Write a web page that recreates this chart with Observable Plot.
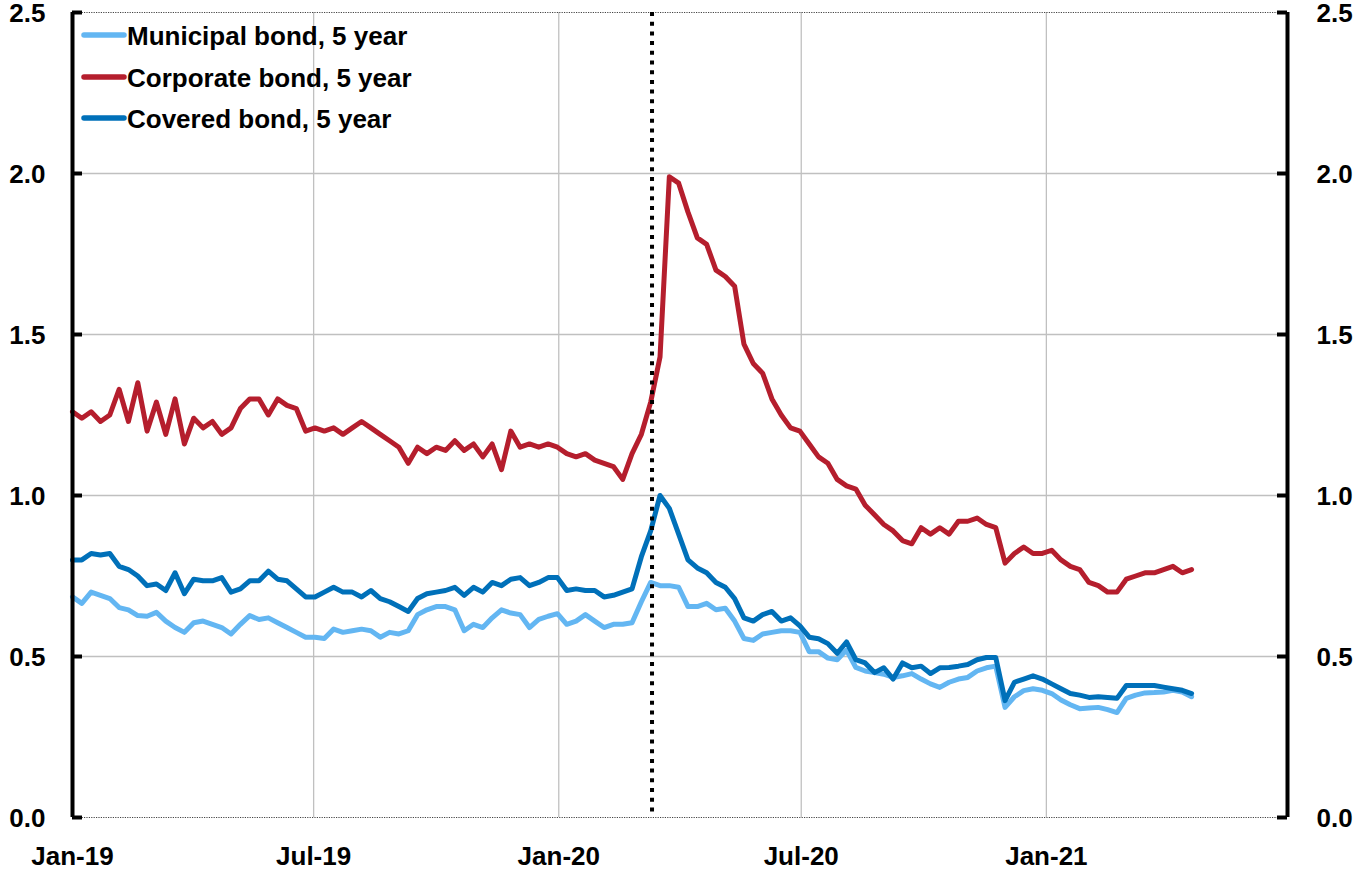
<!DOCTYPE html>
<html>
<head>
<meta charset="utf-8">
<script src="https://cdn.jsdelivr.net/npm/d3@7"></script>
<script src="https://cdn.jsdelivr.net/npm/@observablehq/plot@0.6"></script>
<style>
  html, body { margin: 0; padding: 0; background: #fff; }
  #wrap { position: relative; width: 1358px; height: 870px; }
  #legend { position: absolute; left: 0; top: 0; }
  #legend text { font-family: "Liberation Sans", Arial, sans-serif; font-weight: bold; font-size: 26px; fill: #000; }
  #chart svg { overflow: visible; }
</style>
</head>
<body>
<div id="wrap"><div id="chart"></div><svg id="legend" width="460" height="140"></svg></div>
<script>
// Weekly observation dates (Tuesdays) starting Jan 1, 2019
const startDate = new Date("2019-01-01");
const dates = d3.range(121).map(i => d3.utcDay.offset(startDate, 7 * i));

const seriesNames = ["Municipal bond, 5 year", "Corporate bond, 5 year", "Covered bond, 5 year"];
const seriesColors = ["#63b6f2", "#b51e2d", "#0070b9"];

const municipal = [0.685,0.665,0.70,0.69,0.68,0.652,0.645,0.627,0.625,0.637,
  0.61,0.59,0.575,0.605,0.61,0.60,0.59,0.57,0.60,0.627,
  0.615,0.62,0.605,0.59,0.575,0.56,0.56,0.556,0.585,0.575,
  0.58,0.585,0.58,0.56,0.575,0.57,0.58,0.63,0.645,0.655,
  0.655,0.645,0.58,0.60,0.59,0.62,0.645,0.635,0.63,0.59,
  0.615,0.625,0.633,0.60,0.61,0.63,0.61,0.59,0.60,0.60,
  0.605,0.67,0.73,0.72,0.72,0.715,0.655,0.655,0.665,0.645,
  0.65,0.61,0.556,0.55,0.57,0.575,0.58,0.58,0.575,0.515,
  0.515,0.495,0.49,0.52,0.466,0.455,0.45,0.445,0.435,0.44,
  0.447,0.43,0.415,0.404,0.42,0.43,0.435,0.455,0.465,0.47,
  0.342,0.375,0.394,0.40,0.395,0.385,0.365,0.35,0.338,0.34,
  0.342,0.335,0.326,0.37,0.38,0.387,0.388,0.39,0.395,0.39,
  0.375];

const corporate = [1.26,1.24,1.26,1.23,1.25,1.33,1.23,1.35,1.20,1.29,
  1.19,1.30,1.16,1.24,1.21,1.23,1.19,1.21,1.27,1.30,
  1.30,1.25,1.30,1.28,1.27,1.20,1.21,1.20,1.21,1.19,
  1.21,1.23,1.21,1.19,1.17,1.15,1.10,1.15,1.13,1.15,
  1.14,1.17,1.14,1.16,1.12,1.16,1.08,1.20,1.15,1.16,
  1.15,1.16,1.15,1.13,1.12,1.13,1.11,1.10,1.09,1.05,
  1.13,1.19,1.29,1.43,1.99,1.97,1.88,1.80,1.78,1.70,
  1.68,1.65,1.47,1.41,1.38,1.30,1.25,1.21,1.20,1.16,
  1.12,1.10,1.05,1.03,1.02,0.97,0.94,0.91,0.89,0.86,
  0.85,0.90,0.88,0.90,0.88,0.92,0.92,0.93,0.91,0.90,
  0.79,0.82,0.84,0.82,0.82,0.83,0.80,0.78,0.77,0.73,
  0.72,0.70,0.70,0.74,0.75,0.76,0.76,0.77,0.78,0.76,
  0.77];

const covered = [0.80,0.80,0.82,0.815,0.82,0.78,0.77,0.75,0.72,0.725,
  0.705,0.76,0.695,0.74,0.735,0.735,0.745,0.70,0.71,0.735,
  0.735,0.765,0.74,0.735,0.71,0.685,0.685,0.70,0.715,0.70,
  0.70,0.685,0.705,0.68,0.67,0.655,0.64,0.68,0.695,0.70,
  0.705,0.715,0.69,0.715,0.70,0.73,0.72,0.74,0.745,0.72,
  0.73,0.745,0.745,0.705,0.71,0.705,0.705,0.685,0.69,0.70,
  0.71,0.81,0.89,1.00,0.96,0.88,0.80,0.775,0.76,0.73,
  0.715,0.68,0.62,0.61,0.63,0.64,0.61,0.62,0.595,0.56,
  0.555,0.54,0.51,0.545,0.49,0.48,0.45,0.465,0.43,0.48,
  0.465,0.47,0.447,0.465,0.466,0.47,0.475,0.49,0.497,0.497,
  0.363,0.42,0.43,0.44,0.43,0.415,0.40,0.385,0.38,0.373,
  0.375,0.373,0.37,0.41,0.41,0.41,0.41,0.405,0.40,0.395,
  0.385];

const xDomain = [new Date("2019-01-01"), new Date("2021-07-01")];
const xTicks = ["2019-01-01", "2019-07-01", "2020-01-01", "2020-07-01", "2021-01-01"].map(d => new Date(d));
const yTicks = [0, 0.5, 1.0, 1.5, 2.0, 2.5];
const eventDate = [new Date("2020-03-11")];

const valuesBySeries = [municipal, corporate, covered];
const data = seriesNames.flatMap((name, s) =>
  valuesBySeries[s].map((v, i) => ({series: name, date: dates[i], value: v})));

const W = 1358, H = 870;
const font = "Liberation Sans, Arial, sans-serif";

const chart = Plot.plot({
  width: W,
  height: H,
  marginLeft: 72,
  marginRight: 71,
  marginTop: 12,
  marginBottom: 53,
  style: {fontFamily: font, background: "white", color: "black", overflow: "visible"},
  x: {type: "utc", domain: xDomain},
  y: {domain: [0, 2.5]},
  color: {domain: seriesNames, range: seriesColors},
  marks: [
    Plot.ruleY([0.5, 1.0, 1.5, 2.0], {stroke: "#c0c0c0", strokeWidth: 1.3}),
    Plot.ruleX(xTicks.slice(1), {stroke: "#c0c0c0", strokeWidth: 1.3}),
    Plot.ruleY([0, 2.5], {stroke: "#444", strokeWidth: 1, strokeDasharray: "1.2,1.2"}),
    Plot.lineY(data, {x: "date", y: "value", z: "series", stroke: "series", strokeWidth: 5, strokeLinejoin: "round", strokeLinecap: "round"}),
    Plot.ruleX(eventDate, {stroke: "black", strokeWidth: 4, strokeDasharray: "4,5.7"}),
    Plot.ruleX([xDomain[0], xDomain[1]], {y1: 0, y2: 2.5, stroke: "black", strokeWidth: 4}),
    Plot.tickY(yTicks, {y: d => d, insetRight: W - 72 - 71 - 10, stroke: "black", strokeWidth: 4}),
    Plot.tickY(yTicks, {y: d => d, insetLeft: W - 72 - 71 - 10, stroke: "black", strokeWidth: 4}),
    Plot.axisY({anchor: "left", ticks: yTicks, tickSize: 0, tickPadding: 27, dy: 1.5, tickFormat: d3.format(".1f"), fontSize: 26, fontWeight: "bold", label: null}),
    Plot.axisY({anchor: "right", ticks: yTicks, tickSize: 0, tickPadding: 29, dy: 1.5, tickFormat: d3.format(".1f"), fontSize: 26, fontWeight: "bold", label: null}),
    Plot.axisX({ticks: xTicks, tickSize: 0, tickPadding: 29, tickFormat: d3.utcFormat("%b-%y"), fontSize: 26, fontWeight: "bold", label: null})
  ]
});
document.getElementById("chart").appendChild(chart);

// Legend (inside plot, top-left)
const legend = d3.select("#legend");
const rowY = [35, 77, 118];
seriesNames.forEach((name, i) => {
  legend.append("line").attr("x1", 84).attr("x2", 124).attr("y1", rowY[i]).attr("y2", rowY[i])
    .attr("stroke", seriesColors[i]).attr("stroke-width", 5.5).attr("stroke-linecap", "round");
  legend.append("text").attr("x", 127).attr("y", rowY[i] + 9.5).text(name);
});
</script>
</body>
</html>
